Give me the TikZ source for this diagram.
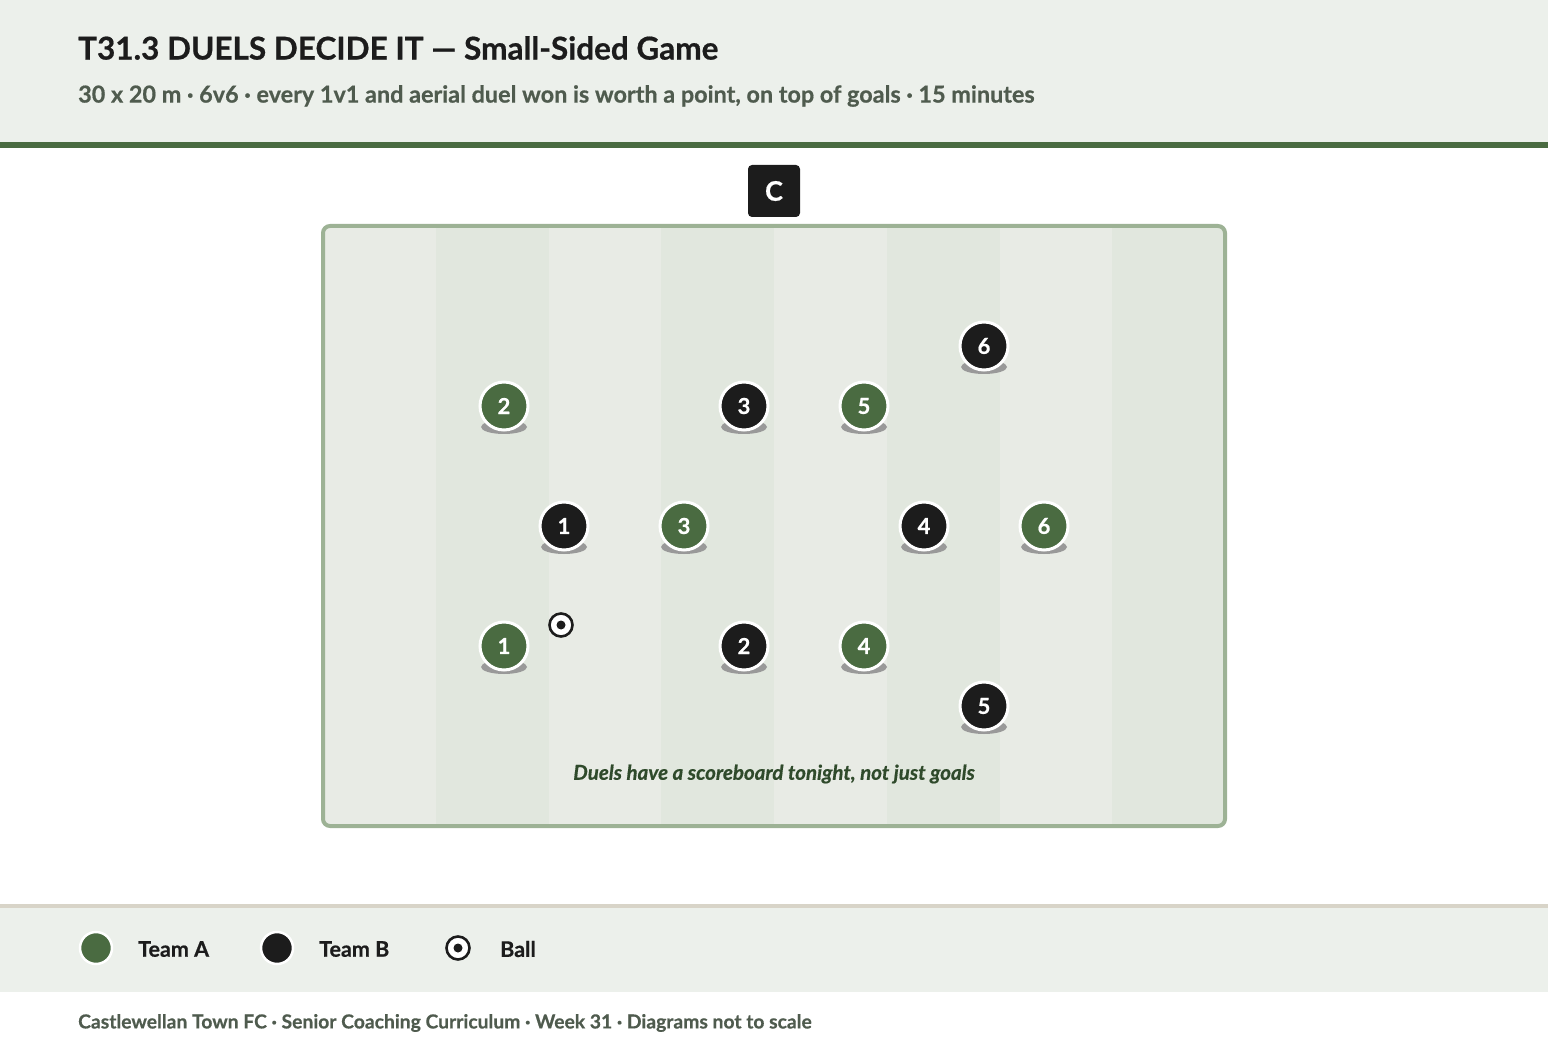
\documentclass[tikz,border=0pt]{standalone}
\usepackage{fontspec}
\setmainfont{Lato}[BoldFont={Lato Bold}, BoldItalicFont={Lato Bold Italic}, BoldFeatures={FakeBold=0.6}, BoldItalicFeatures={FakeBold=0.6}]
\usepackage{xcolor}
\usetikzlibrary{positioning}

\definecolor{bandbg}{HTML}{ECF0EB}
\definecolor{rulegreen}{HTML}{4A6B41}
\definecolor{teamagreen}{HTML}{4A6B41}
\definecolor{teamblack}{HTML}{1C1C1C}
\definecolor{pitchline}{HTML}{9DB295}
\definecolor{stripelight}{HTML}{E8EBE5}
\definecolor{stripedark}{HTML}{E1E7DE}
\definecolor{subgray}{HTML}{4F5B4E}
\definecolor{notegreen}{HTML}{2F4A2B}
\definecolor{footline}{HTML}{D8D4C8}

\begin{document}
\begin{tikzpicture}[x=1pt, y=-1pt, node distance=10pt and 26pt]

	% Define styles
	\tikzset{
		player/.style={
			circle, draw=white, line width=3pt,
			minimum size=48pt, inner sep=0pt, text=white,
			font=\fontsize{22}{24}\selectfont\bfseries
		},
		teamA/.style={player, fill=teamagreen},
		teamB/.style={player, fill=teamblack},
		keyA/.style={circle, draw=white, line width=2.5pt, fill=teamagreen, minimum size=32pt, inner sep=0pt},
		keyB/.style={circle, draw=white, line width=2.5pt, fill=teamblack, minimum size=32pt, inner sep=0pt},
		balldot/.style={circle, draw=teamblack, line width=2.6pt, fill=white, minimum size=23pt, inner sep=0pt},
		keytext/.style={anchor=west, inner sep=0pt, font=\fontsize{21.5}{24}\selectfont\bfseries, text=teamblack},
		shade/.style={fill=black!40}
	}

	\useasboundingbox (0,0) rectangle (1548,1048);

	% Header band
	\fill[bandbg] (0,0) rectangle (1548,143);
	\fill[rulegreen] (0,142) rectangle (1548,148);
	\node (title) [anchor=west, inner sep=0pt, font=\fontsize{31.5}{34}\selectfont\bfseries, text=teamblack] at (78,48)
		{T31.3 DUELS DECIDE IT — Small-Sided Game};
	\node (subtitle) [anchor=west, inner sep=0pt, font=\fontsize{23.4}{26}\selectfont\bfseries, text=subgray] at (78,96)
		{30 x 20 m · 6v6 · every 1v1 and aerial duel won is worth a point, on top of goals · 15 minutes};

	% Pitch with stripes
	\begin{scope}
		\clip[rounded corners=7pt] (323,226) rectangle (1225,826);
		\foreach \i in {0,...,7} {
			\pgfmathsetmacro{\xa}{323+\i*112.75}
			\ifodd\i
				\fill[stripedark] (\xa,226) rectangle (\xa+112.75,826);
			\else
				\fill[stripelight] (\xa,226) rectangle (\xa+112.75,826);
			\fi
		}
	\end{scope}
	\draw[pitchline, line width=4pt, rounded corners=7pt] (323,226) rectangle (1225,826);

	% Coach
	\node (coach) [fill=teamblack, rounded corners=4pt, minimum size=52pt, inner sep=0pt,
		text=white, font=\fontsize{27}{28}\selectfont\bfseries] at (774,191) {C};

	% Team A
	\foreach \n/\x/\y in {1/504/646, 2/504/406, 3/684/526, 4/864/646, 5/864/406, 6/1044/526} {
		\fill[shade] (\x,\y+21) ellipse (23pt and 7pt);
		\node (a\n) [teamA] at (\x,\y) {\n};
	}

	% Team B
	\foreach \n/\x/\y in {1/564/526, 2/744/646, 3/744/406, 4/924/526, 5/984/706, 6/984/346} {
		\fill[shade] (\x,\y+21) ellipse (23pt and 7pt);
		\node (b\n) [teamB] at (\x,\y) {\n};
	}

	% Ball
	\node (ball) [balldot] at (561,625) {};
	\fill[teamblack] (ball.center) circle (4.5pt);

	% Note
	\node (note) [font=\fontsize{20.5}{22}\selectfont\bfseries\itshape, text=notegreen] at (774,774)
		{Duels have a scoreboard tonight, not just goals};

	% Legend band
	\fill[bandbg] (0,906) rectangle (1548,992);
	\fill[footline] (0,904) rectangle (1548,908);
	\node (keya) [keyA] at (96,948) {};
	\node (texta) [keytext] at (138,949) {Team A};
	\node (keyb) [keyB] at (277,948) {};
	\node (textb) [keytext] at (319,949) {Team B};
	\node (keyball) [balldot] at (458,948) {};
	\fill[teamblack] (keyball.center) circle (4.5pt);
	\node (textball) [keytext] at (500,949) {Ball};

	% Footer
	\node (footer) [anchor=west, inner sep=0pt, font=\fontsize{19.3}{20}\selectfont\bfseries, text=subgray] at (78,1023)
		{Castlewellan Town FC · Senior Coaching Curriculum · Week 31 · Diagrams not to scale};

\end{tikzpicture}
\end{document}
